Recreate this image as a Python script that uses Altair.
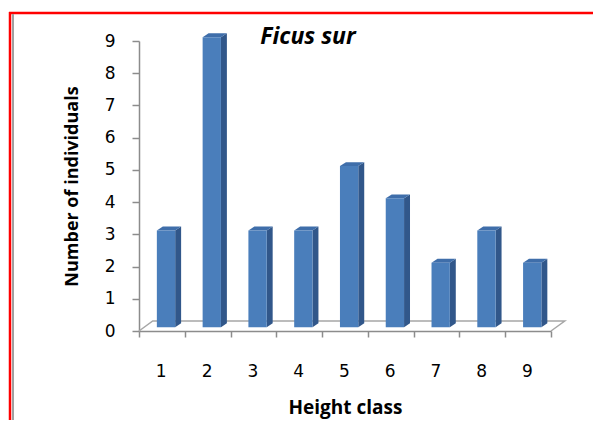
import altair as alt
import pandas as pd

# ---- data ----
classes = [1, 2, 3, 4, 5, 6, 7, 8, 9]
counts = [3, 9, 3, 3, 5, 4, 2, 3, 2]
y_ticks = [0, 1, 2, 3, 4, 5, 6, 7, 8, 9]
chart_title = "Ficus sur"
x_title = "Height class"
y_title = "Number of individuals"

# ---- 3D look (in data units) ----
BAR_L, BAR_R = -0.11, 0.29      # front face relative to class centre
DX, DY = 0.13, 0.12             # depth of bar side / top
BASE = 0.12                     # bars stand slightly behind the front edge of floor
FLOOR_DX, FLOOR_DY = 0.30, 0.31

lo = min(classes) - 0.5
hi = max(classes) + 0.5
x_ticks = [c - 0.5 for c in classes] + [hi]

FRONT = "#4a7ebb"
SIDE = "#31578a"
TOP = "#3f6eaa"
GRAY = "#8c8c8c"

front = pd.DataFrame({"cls": classes, "n": counts})
front["xl"] = front.cls + BAR_L
front["xr"] = front.cls + BAR_R
front["yb"] = BASE
front["yt"] = front.n + BASE

side_rows, top_rows = [], []
for c, n in zip(classes, counts):
    side_rows.append({"cls": c, "x": c + BAR_R, "top": n + BASE, "bot": BASE})
    side_rows.append({"cls": c, "x": c + BAR_R + DX, "top": n + BASE + DY, "bot": BASE + DY})
    top_rows.append({"cls": c, "y": n + BASE, "xl": c + BAR_L, "xr": c + BAR_R})
    top_rows.append({"cls": c, "y": n + BASE + DY, "xl": c + BAR_L + DX, "xr": c + BAR_R + DX})
side = pd.DataFrame(side_rows)
topf = pd.DataFrame(top_rows)

floor = pd.DataFrame({
    "x": [lo, lo + FLOOR_DX, hi + FLOOR_DX, hi],
    "y": [0, FLOOR_DY, FLOOR_DY, 0],
    "o": [0, 1, 2, 3],
})

xscale = alt.Scale(domain=[lo, hi], nice=False, zero=False)
yscale = alt.Scale(domain=[0, 9], nice=False, zero=True)

xaxis = alt.Axis(
    values=x_ticks,
    labelExpr="datum.value < 1 ? '' : format(datum.value - 0.5, 'd')",
    labelOffset=-24,
    labelFlush=False,
    labelOverlap=False,
    labelFont="DejaVu Sans",
    labelFontSize=17,
    labelColor="#000000",
    labelPadding=26,
    tickSize=6,
    tickColor=GRAY,
    tickWidth=1.5,
    domainColor=GRAY,
    domainWidth=1.5,
    grid=False,
    title=x_title,
    titleFont="Open Sans",
    titleFontSize=19,
    titleFontWeight="bold",
    titleColor="#000000",
    titleY=76,
    titleBaseline="middle",
)
yaxis = alt.Axis(
    values=y_ticks,
    labelFont="DejaVu Sans",
    labelFontSize=17,
    labelColor="#000000",
    labelPadding=17,
    tickSize=7,
    tickColor=GRAY,
    tickWidth=1.5,
    domainColor=GRAY,
    domainWidth=1.5,
    grid=False,
    title=y_title,
    titleFont="Open Sans",
    titleFontSize=18,
    titleFontWeight="bold",
    titleColor="#000000",
    titleAngle=-90,
    titleX=-67,
    titleY=145,
    titleAlign="center",
    titleBaseline="middle",
)

floor_layer = alt.Chart(floor).mark_line(color="#a6a6a6", strokeWidth=1.5).encode(
    x=alt.X("x:Q", scale=xscale, axis=xaxis),
    y=alt.Y("y:Q", scale=yscale, axis=yaxis),
    order="o:Q",
)

front_layer = alt.Chart(front).mark_rect(color=FRONT).encode(
    x=alt.X("xl:Q", scale=xscale, axis=xaxis),
    x2="xr:Q",
    y=alt.Y("yb:Q", scale=yscale, axis=yaxis),
    y2="yt:Q",
)

side_layer = alt.Chart(side).mark_area(color=SIDE, opacity=1).encode(
    x=alt.X("x:Q", scale=xscale, axis=xaxis),
    y=alt.Y("top:Q", scale=yscale, axis=yaxis),
    y2="bot:Q",
    detail="cls:N",
)

top_layer = alt.Chart(topf).mark_area(color=TOP, opacity=1, orient="horizontal").encode(
    y=alt.Y("y:Q", scale=yscale, axis=yaxis),
    x=alt.X("xl:Q", scale=xscale, axis=xaxis),
    x2="xr:Q",
    detail="cls:N",
)

deco = alt.Data(values=[{}])
red_top = alt.Chart(deco).mark_rule(color="#ff0000", strokeWidth=2.5).encode(
    x=alt.value(-130), x2=alt.value(470), y=alt.value(-28)
)
red_left = alt.Chart(deco).mark_rule(color="#ff0000", strokeWidth=2.5).encode(
    x=alt.value(-129), y=alt.value(-29), y2=alt.value(400)
)
gray_left = alt.Chart(deco).mark_rule(color="#a0a0a0", strokeWidth=2).encode(
    x=alt.value(-126), y=alt.value(-27), y2=alt.value(400)
)

chart = alt.layer(
    floor_layer, side_layer, top_layer, front_layer, red_top, red_left, gray_left
).properties(
    width=412,
    height=290,
    title=alt.TitleParams(
        chart_title,
        font="Open Sans",
        fontSize=23,
        fontWeight="bold",
        fontStyle="italic",
        color="#000000",
        anchor="middle",
        dx=-37,
        dy=38,
        offset=0,
    ),
    autosize=alt.AutoSizeParams(type="none"),
    padding={"left": 131, "top": 33, "right": 42, "bottom": 89},
    background="#ffffff",
).configure_view(stroke=None)

chart.save("out.html", embed_options={"renderer": "svg", "actions": False})
